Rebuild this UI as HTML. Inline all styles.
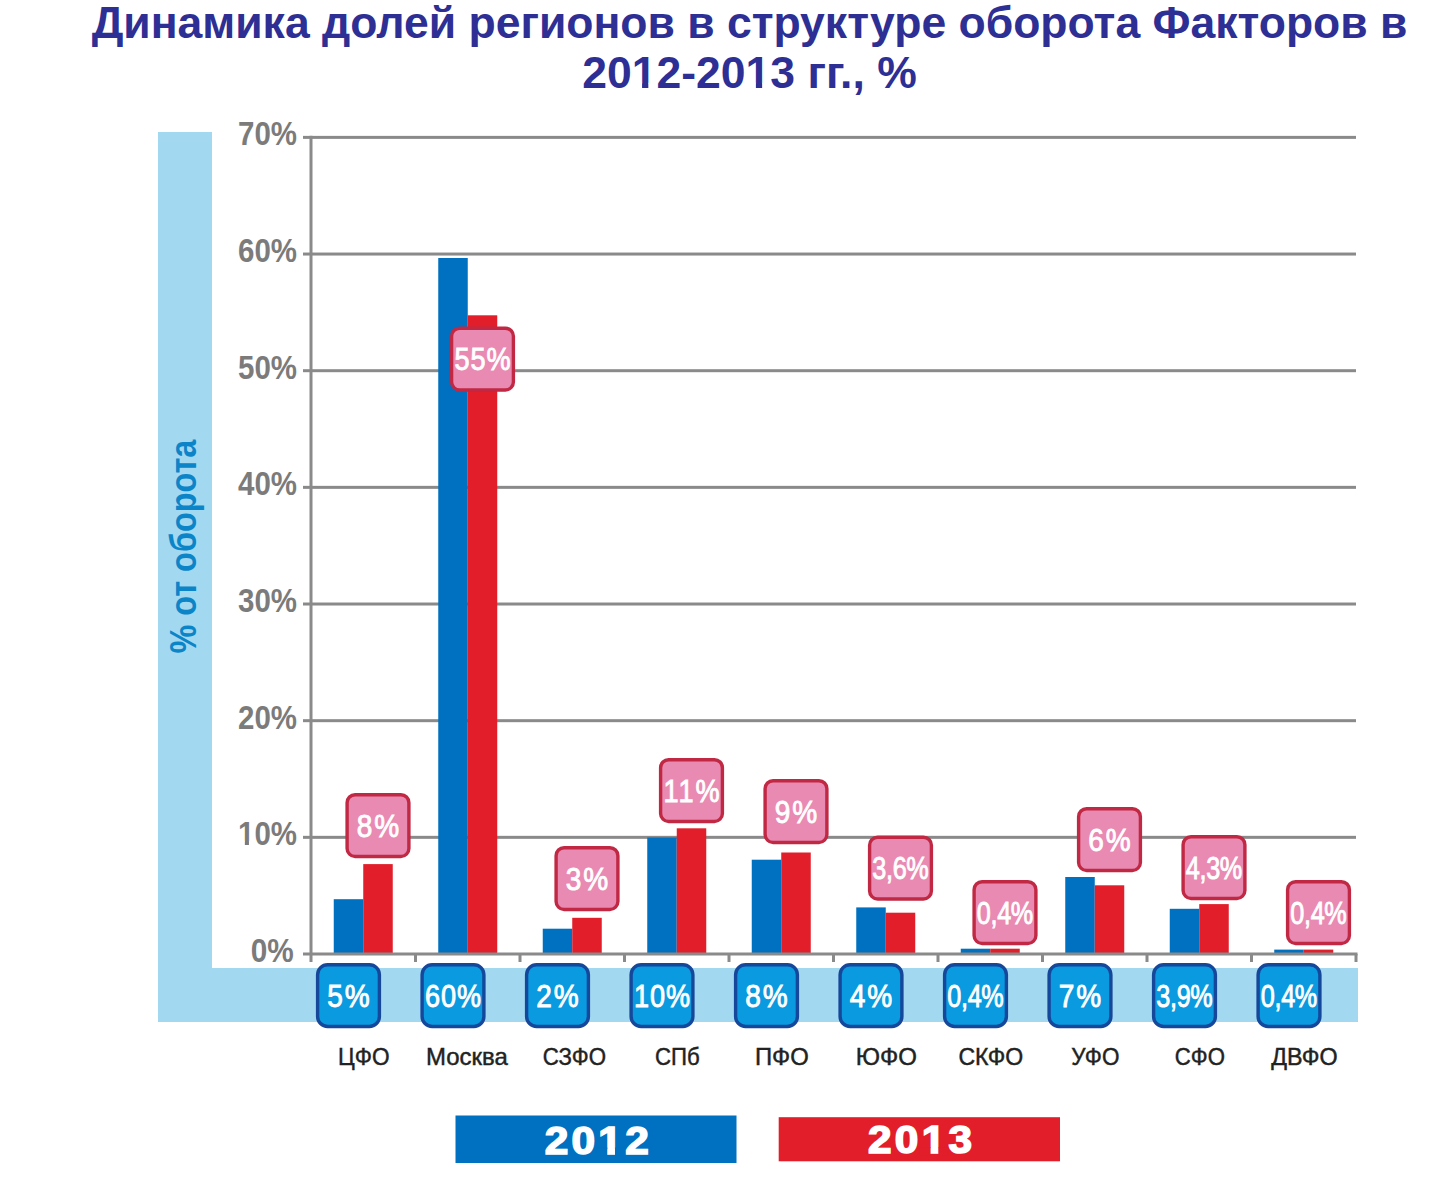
<!DOCTYPE html>
<html><head><meta charset="utf-8"><style>
html,body{margin:0;padding:0;background:#fff;}
body{width:1451px;height:1180px;overflow:hidden;position:relative;font-family:"Liberation Sans",sans-serif;}
.t{position:absolute;left:0;width:1451px;text-align:center;color:#2e2f94;font-weight:bold;font-size:44.5px;line-height:52px;}
svg{position:absolute;left:0;top:0;}
svg text{font-family:"Liberation Sans",sans-serif;}
</style></head><body>
<svg width="1451" height="1180" viewBox="0 0 1451 1180">
<rect x="158" y="132" width="54" height="890" fill="#a2d9f1"/>
<rect x="158" y="968" width="1200" height="54" fill="#a2d9f1"/>
<text x="0" y="0" transform="translate(195.5,546.6) rotate(-90)" text-anchor="middle" font-size="37.5" font-weight="bold" fill="#0c85c8" textLength="214" lengthAdjust="spacingAndGlyphs">% от оборота</text>
<rect x="303" y="835.84" width="1053" height="3" fill="#8a8a8a"/>
<rect x="303" y="719.18" width="1053" height="3" fill="#8a8a8a"/>
<rect x="303" y="602.52" width="1053" height="3" fill="#8a8a8a"/>
<rect x="303" y="485.86" width="1053" height="3" fill="#8a8a8a"/>
<rect x="303" y="369.20" width="1053" height="3" fill="#8a8a8a"/>
<rect x="303" y="252.54" width="1053" height="3" fill="#8a8a8a"/>
<rect x="303" y="135.88" width="1053" height="3" fill="#8a8a8a"/>
<text x="293.8" y="961.60" text-anchor="end" font-size="33.2" font-weight="bold" fill="#7b7b7b" textLength="43" lengthAdjust="spacingAndGlyphs">0%</text>
<text x="297" y="845.34" text-anchor="end" font-size="33.2" font-weight="bold" fill="#7b7b7b" textLength="59" lengthAdjust="spacingAndGlyphs">10%</text>
<text x="297" y="728.68" text-anchor="end" font-size="33.2" font-weight="bold" fill="#7b7b7b" textLength="59" lengthAdjust="spacingAndGlyphs">20%</text>
<text x="297" y="612.02" text-anchor="end" font-size="33.2" font-weight="bold" fill="#7b7b7b" textLength="59" lengthAdjust="spacingAndGlyphs">30%</text>
<text x="297" y="495.36" text-anchor="end" font-size="33.2" font-weight="bold" fill="#7b7b7b" textLength="59" lengthAdjust="spacingAndGlyphs">40%</text>
<text x="297" y="378.70" text-anchor="end" font-size="33.2" font-weight="bold" fill="#7b7b7b" textLength="59" lengthAdjust="spacingAndGlyphs">50%</text>
<text x="297" y="262.04" text-anchor="end" font-size="33.2" font-weight="bold" fill="#7b7b7b" textLength="59" lengthAdjust="spacingAndGlyphs">60%</text>
<text x="297" y="145.38" text-anchor="end" font-size="33.2" font-weight="bold" fill="#7b7b7b" textLength="59" lengthAdjust="spacingAndGlyphs">70%</text>
<rect x="333.75" y="899.2" width="29.5" height="54.80" fill="#0070c0"/>
<rect x="363.25" y="864.1" width="29.5" height="89.90" fill="#e11e2a"/>
<rect x="438.25" y="258" width="29.5" height="696.00" fill="#0070c0"/>
<rect x="467.75" y="315.3" width="29.5" height="638.70" fill="#e11e2a"/>
<rect x="542.75" y="928.7" width="29.5" height="25.30" fill="#0070c0"/>
<rect x="572.25" y="917.8" width="29.5" height="36.20" fill="#e11e2a"/>
<rect x="647.25" y="837.5" width="29.5" height="116.50" fill="#0070c0"/>
<rect x="676.75" y="828.3" width="29.5" height="125.70" fill="#e11e2a"/>
<rect x="751.75" y="859.7" width="29.5" height="94.30" fill="#0070c0"/>
<rect x="781.25" y="852.5" width="29.5" height="101.50" fill="#e11e2a"/>
<rect x="856.25" y="907.4" width="29.5" height="46.60" fill="#0070c0"/>
<rect x="885.75" y="912.7" width="29.5" height="41.30" fill="#e11e2a"/>
<rect x="960.75" y="948.7" width="29.5" height="5.30" fill="#0070c0"/>
<rect x="990.25" y="948.7" width="29.5" height="5.30" fill="#e11e2a"/>
<rect x="1065.25" y="877" width="29.5" height="77.00" fill="#0070c0"/>
<rect x="1094.75" y="885.3" width="29.5" height="68.70" fill="#e11e2a"/>
<rect x="1169.75" y="908.8" width="29.5" height="45.20" fill="#0070c0"/>
<rect x="1199.25" y="904.1" width="29.5" height="49.90" fill="#e11e2a"/>
<rect x="1274.25" y="949.6" width="29.5" height="4.40" fill="#0070c0"/>
<rect x="1303.75" y="949.6" width="29.5" height="4.40" fill="#e11e2a"/>
<rect x="303" y="952.5" width="1054.5" height="3" fill="#8a8a8a"/>
<rect x="309.5" y="135.8" width="3" height="826.2" fill="#8a8a8a"/>
<rect x="414.00" y="954" width="3" height="8" fill="#8a8a8a"/>
<rect x="518.50" y="954" width="3" height="8" fill="#8a8a8a"/>
<rect x="623.00" y="954" width="3" height="8" fill="#8a8a8a"/>
<rect x="727.50" y="954" width="3" height="8" fill="#8a8a8a"/>
<rect x="832.00" y="954" width="3" height="8" fill="#8a8a8a"/>
<rect x="936.50" y="954" width="3" height="8" fill="#8a8a8a"/>
<rect x="1041.00" y="954" width="3" height="8" fill="#8a8a8a"/>
<rect x="1145.50" y="954" width="3" height="8" fill="#8a8a8a"/>
<rect x="1250.00" y="954" width="3" height="8" fill="#8a8a8a"/>
<rect x="1354.50" y="954" width="3" height="8" fill="#8a8a8a"/>
<rect x="347.10" y="794.7" width="61.8" height="61.8" rx="8" fill="#e98ab2" stroke="#c02843" stroke-width="3.4"/>
<text transform="translate(378.00,836.60) scale(0.89,1)" x="0" y="0" text-anchor="middle" font-size="31.5" fill="#fff" stroke="#fff" stroke-width="0.9" textLength="47.75" lengthAdjust="spacing">8%</text>
<rect x="451.60" y="328.2" width="61.8" height="61.8" rx="8" fill="#e98ab2" stroke="#c02843" stroke-width="3.4"/>
<text transform="translate(482.50,370.10) scale(0.86,1)" x="0" y="0" text-anchor="middle" font-size="31.5" fill="#fff" stroke="#fff" stroke-width="0.9" textLength="65.12" lengthAdjust="spacing">55%</text>
<rect x="556.10" y="847.7" width="61.8" height="61.8" rx="8" fill="#e98ab2" stroke="#c02843" stroke-width="3.4"/>
<text transform="translate(587.00,889.60) scale(0.89,1)" x="0" y="0" text-anchor="middle" font-size="31.5" fill="#fff" stroke="#fff" stroke-width="0.9" textLength="47.75" lengthAdjust="spacing">3%</text>
<rect x="660.60" y="759.7" width="61.8" height="61.8" rx="8" fill="#e98ab2" stroke="#c02843" stroke-width="3.4"/>
<text transform="translate(691.50,801.60) scale(0.86,1)" x="0" y="0" text-anchor="middle" font-size="31.5" fill="#fff" stroke="#fff" stroke-width="0.9" textLength="65.12" lengthAdjust="spacing">11%</text>
<rect x="765.10" y="780.7" width="61.8" height="61.8" rx="8" fill="#e98ab2" stroke="#c02843" stroke-width="3.4"/>
<text transform="translate(796.00,822.60) scale(0.89,1)" x="0" y="0" text-anchor="middle" font-size="31.5" fill="#fff" stroke="#fff" stroke-width="0.9" textLength="47.75" lengthAdjust="spacing">9%</text>
<rect x="869.60" y="837.2" width="61.8" height="61.8" rx="8" fill="#e98ab2" stroke="#c02843" stroke-width="3.4"/>
<text transform="translate(900.50,879.10) scale(0.8,1)" x="0" y="0" text-anchor="middle" font-size="31.5" fill="#fff" stroke="#fff" stroke-width="0.9" textLength="70.62" lengthAdjust="spacing">3,6%</text>
<rect x="974.10" y="881.7" width="61.8" height="61.8" rx="8" fill="#e98ab2" stroke="#c02843" stroke-width="3.4"/>
<text transform="translate(1005.00,923.60) scale(0.8,1)" x="0" y="0" text-anchor="middle" font-size="31.5" fill="#fff" stroke="#fff" stroke-width="0.9" textLength="70.62" lengthAdjust="spacing">0,4%</text>
<rect x="1078.60" y="808.7" width="61.8" height="61.8" rx="8" fill="#e98ab2" stroke="#c02843" stroke-width="3.4"/>
<text transform="translate(1109.50,850.60) scale(0.89,1)" x="0" y="0" text-anchor="middle" font-size="31.5" fill="#fff" stroke="#fff" stroke-width="0.9" textLength="47.75" lengthAdjust="spacing">6%</text>
<rect x="1183.10" y="836.7" width="61.8" height="61.8" rx="8" fill="#e98ab2" stroke="#c02843" stroke-width="3.4"/>
<text transform="translate(1214.00,878.60) scale(0.8,1)" x="0" y="0" text-anchor="middle" font-size="31.5" fill="#fff" stroke="#fff" stroke-width="0.9" textLength="70.62" lengthAdjust="spacing">4,3%</text>
<rect x="1287.60" y="881.7" width="61.8" height="61.8" rx="8" fill="#e98ab2" stroke="#c02843" stroke-width="3.4"/>
<text transform="translate(1318.50,923.60) scale(0.8,1)" x="0" y="0" text-anchor="middle" font-size="31.5" fill="#fff" stroke="#fff" stroke-width="0.9" textLength="70.62" lengthAdjust="spacing">0,4%</text>
<rect x="317.60" y="964.7" width="61.8" height="61.8" rx="10" fill="#0a9ae0" stroke="#15479a" stroke-width="3.4"/>
<text transform="translate(348.50,1007.10) scale(0.89,1)" x="0" y="0" text-anchor="middle" font-size="31.5" fill="#fff" stroke="#fff" stroke-width="0.9" textLength="47.75" lengthAdjust="spacing">5%</text>
<rect x="422.10" y="964.7" width="61.8" height="61.8" rx="10" fill="#0a9ae0" stroke="#15479a" stroke-width="3.4"/>
<text transform="translate(453.00,1007.10) scale(0.86,1)" x="0" y="0" text-anchor="middle" font-size="31.5" fill="#fff" stroke="#fff" stroke-width="0.9" textLength="65.12" lengthAdjust="spacing">60%</text>
<rect x="526.60" y="964.7" width="61.8" height="61.8" rx="10" fill="#0a9ae0" stroke="#15479a" stroke-width="3.4"/>
<text transform="translate(557.50,1007.10) scale(0.89,1)" x="0" y="0" text-anchor="middle" font-size="31.5" fill="#fff" stroke="#fff" stroke-width="0.9" textLength="47.75" lengthAdjust="spacing">2%</text>
<rect x="631.10" y="964.7" width="61.8" height="61.8" rx="10" fill="#0a9ae0" stroke="#15479a" stroke-width="3.4"/>
<text transform="translate(662.00,1007.10) scale(0.86,1)" x="0" y="0" text-anchor="middle" font-size="31.5" fill="#fff" stroke="#fff" stroke-width="0.9" textLength="65.12" lengthAdjust="spacing">10%</text>
<rect x="735.60" y="964.7" width="61.8" height="61.8" rx="10" fill="#0a9ae0" stroke="#15479a" stroke-width="3.4"/>
<text transform="translate(766.50,1007.10) scale(0.89,1)" x="0" y="0" text-anchor="middle" font-size="31.5" fill="#fff" stroke="#fff" stroke-width="0.9" textLength="47.75" lengthAdjust="spacing">8%</text>
<rect x="840.10" y="964.7" width="61.8" height="61.8" rx="10" fill="#0a9ae0" stroke="#15479a" stroke-width="3.4"/>
<text transform="translate(871.00,1007.10) scale(0.89,1)" x="0" y="0" text-anchor="middle" font-size="31.5" fill="#fff" stroke="#fff" stroke-width="0.9" textLength="47.75" lengthAdjust="spacing">4%</text>
<rect x="944.60" y="964.7" width="61.8" height="61.8" rx="10" fill="#0a9ae0" stroke="#15479a" stroke-width="3.4"/>
<text transform="translate(975.50,1007.10) scale(0.8,1)" x="0" y="0" text-anchor="middle" font-size="31.5" fill="#fff" stroke="#fff" stroke-width="0.9" textLength="70.62" lengthAdjust="spacing">0,4%</text>
<rect x="1049.10" y="964.7" width="61.8" height="61.8" rx="10" fill="#0a9ae0" stroke="#15479a" stroke-width="3.4"/>
<text transform="translate(1080.00,1007.10) scale(0.89,1)" x="0" y="0" text-anchor="middle" font-size="31.5" fill="#fff" stroke="#fff" stroke-width="0.9" textLength="47.75" lengthAdjust="spacing">7%</text>
<rect x="1153.60" y="964.7" width="61.8" height="61.8" rx="10" fill="#0a9ae0" stroke="#15479a" stroke-width="3.4"/>
<text transform="translate(1184.50,1007.10) scale(0.8,1)" x="0" y="0" text-anchor="middle" font-size="31.5" fill="#fff" stroke="#fff" stroke-width="0.9" textLength="70.62" lengthAdjust="spacing">3,9%</text>
<rect x="1258.10" y="964.7" width="61.8" height="61.8" rx="10" fill="#0a9ae0" stroke="#15479a" stroke-width="3.4"/>
<text transform="translate(1289.00,1007.10) scale(0.8,1)" x="0" y="0" text-anchor="middle" font-size="31.5" fill="#fff" stroke="#fff" stroke-width="0.9" textLength="70.62" lengthAdjust="spacing">0,4%</text>
<text x="363.85" y="1065" text-anchor="middle" font-size="24" fill="#222" stroke="#222" stroke-width="0.45" textLength="51.5" lengthAdjust="spacingAndGlyphs">ЦФО</text>
<text x="466.85" y="1065" text-anchor="middle" font-size="24" fill="#222" stroke="#222" stroke-width="0.45" textLength="81.8" lengthAdjust="spacingAndGlyphs">Москва</text>
<text x="574.35" y="1065" text-anchor="middle" font-size="24" fill="#222" stroke="#222" stroke-width="0.45" textLength="63.2" lengthAdjust="spacingAndGlyphs">СЗФО</text>
<text x="677.35" y="1065" text-anchor="middle" font-size="24" fill="#222" stroke="#222" stroke-width="0.45" textLength="44.7" lengthAdjust="spacingAndGlyphs">СПб</text>
<text x="781.85" y="1065" text-anchor="middle" font-size="24" fill="#222" stroke="#222" stroke-width="0.45" textLength="53.8" lengthAdjust="spacingAndGlyphs">ПФО</text>
<text x="886.35" y="1065" text-anchor="middle" font-size="24" fill="#222" stroke="#222" stroke-width="0.45" textLength="61.2" lengthAdjust="spacingAndGlyphs">ЮФО</text>
<text x="990.85" y="1065" text-anchor="middle" font-size="24" fill="#222" stroke="#222" stroke-width="0.45" textLength="64.8" lengthAdjust="spacingAndGlyphs">СКФО</text>
<text x="1095.35" y="1065" text-anchor="middle" font-size="24" fill="#222" stroke="#222" stroke-width="0.45" textLength="48.1" lengthAdjust="spacingAndGlyphs">УФО</text>
<text x="1199.85" y="1065" text-anchor="middle" font-size="24" fill="#222" stroke="#222" stroke-width="0.45" textLength="50.1" lengthAdjust="spacingAndGlyphs">СФО</text>
<text x="1304.35" y="1065" text-anchor="middle" font-size="24" fill="#222" stroke="#222" stroke-width="0.45" textLength="66.4" lengthAdjust="spacingAndGlyphs">ДВФО</text>
<rect x="455.5" y="1115.5" width="281" height="47.5" fill="#0070c0"/>
<text x="0" y="0" transform="translate(596.7,1153.5) scale(1.1,1)" text-anchor="middle" font-size="38.5" font-weight="bold" fill="#fff" stroke="#fff" stroke-width="1.6" textLength="94.6" lengthAdjust="spacing">2012</text>
<rect x="778.7" y="1117.2" width="281.3" height="44.1" fill="#e11e2a"/>
<text x="0" y="0" transform="translate(920,1153.4) scale(1.1,1)" text-anchor="middle" font-size="38.5" font-weight="bold" fill="#fff" stroke="#fff" stroke-width="1.6" textLength="94.6" lengthAdjust="spacing">2013</text>
<rect x="237.46" y="840.81" width="7.40" height="5.68" fill="#fff"/><rect x="248.94" y="840.81" width="6.73" height="5.68" fill="#fff"/><g transform="translate(596.7,1153.5) scale(1.1,1)"><rect x="-0.38" y="-5.94" width="9.99" height="7.96" fill="#0070c0"/><rect x="16.63" y="-5.94" width="9.11" height="7.96" fill="#0070c0"/></g><g transform="translate(920,1153.4) scale(1.1,1)"><rect x="-0.38" y="-5.94" width="9.99" height="7.96" fill="#e11e2a"/><rect x="16.63" y="-5.94" width="9.11" height="7.96" fill="#e11e2a"/></g>
</svg>
<div class="t" style="top:-3px;left:24px">Динамика долей регионов в структуре оборота Факторов в</div>
<div class="t" style="top:47px;left:24px">2012-2013 гг., %</div>
<svg width="1451" height="120" viewBox="0 0 1451 120" style="position:absolute;left:0;top:0"><rect x="633.05" y="82.83" width="9.02" height="5.82" fill="#fff"/><rect x="648.32" y="82.83" width="8.00" height="5.82" fill="#fff"/><rect x="746.87" y="82.83" width="9.02" height="5.82" fill="#fff"/><rect x="762.13" y="82.83" width="8.00" height="5.82" fill="#fff"/></svg>
</body></html>
